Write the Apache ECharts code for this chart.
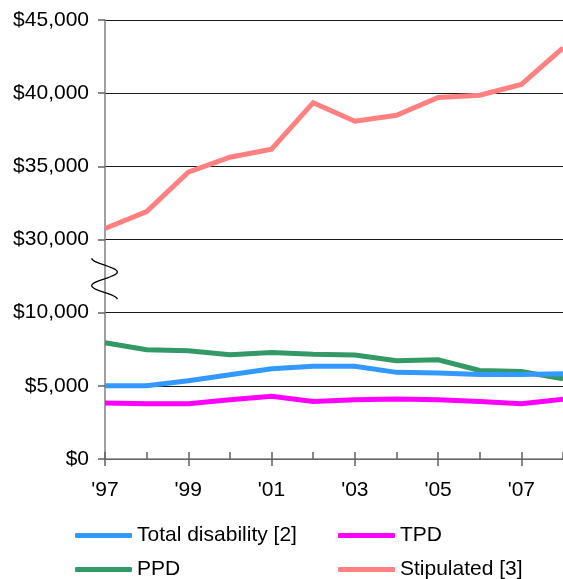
<!DOCTYPE html>
<html>
<head>
<meta charset="utf-8">
<script src="https://cdn.jsdelivr.net/npm/echarts@6/dist/echarts.min.js"></script>
<style>
	html, body { margin: 0; padding: 0; background: #fff; }
	#chart { width: 563px; height: 579px; }
</style>
</head>
<body>
<div id="chart"></div>
<script>
	// categories
	var years = ["'97", "'98", "'99", "'00", "'01", "'02", "'03", "'04", "'05", "'06", "'07", "'08"];
	// series values (dollars)
	var totalDisability = [5010, 5010, 5350, 5760, 6170, 6330, 6330, 5920, 5870, 5780, 5780, 5830];
	var tpd = [3820, 3780, 3780, 4050, 4280, 3930, 4050, 4100, 4050, 3930, 3780, 4080];
	var ppd = [7950, 7470, 7400, 7120, 7280, 7150, 7100, 6710, 6780, 6050, 5980, 5480];
	var stipulated = [30750, 31910, 34600, 35620, 36170, 39350, 38080, 38490, 39700, 39860, 40600, 43100];
	// broken axis: everything from $30,000 up is shifted down by this gap
	var breakLow = 10000;
	var breakHigh = 30000;
	var gap = 15000;

	function toAxis(v) {
		return v >= breakHigh ? v - gap : v;
	}
	function fromAxis(v) {
		return v > breakLow ? v + gap : v;
	}

	var font = "'Liberation Sans', Arial, sans-serif";
	var myChart = echarts.init(document.getElementById('chart'));

	// the little S-shaped break mark on the y axis
	var squiggle = [];
	for (var i = 0; i <= 40; i++) {
		var t = i / 40;
		squiggle.push([104.5 - 12.8 * Math.cos(t * 3 * Math.PI), 258.3 + t * 41]);
	}

	// one legend per item so the 2x2 grid sits where it should
	function legendItem(name, left, top) {
		return {
			left: left,
			top: top,
			padding: 0,
			itemWidth: 57,
			itemHeight: 5,
			icon: 'roundRect',
			data: [name],
			textStyle: { color: '#000', fontSize: 21, fontFamily: font, padding: [0, 0, 0, 0] }
		};
	}

	var option = {
		animation: false,
		textStyle: { fontFamily: font },
		grid: {
			left: 105,
			right: -4,
			top: 20,
			bottom: 120
		},
		legend: [
			legendItem('Total disability [2]', 75, 525),
			legendItem('PPD', 75, 559),
			legendItem('TPD', 338, 525),
			legendItem('Stipulated [3]', 338, 559)
		],
		xAxis: [{
			type: 'category',
			data: years,
			boundaryGap: false,
			axisLine: { lineStyle: { color: '#808080', width: 1.5 } },
			axisTick: { show: true, length: 7, lineStyle: { color: '#606060', width: 1.5 } },
			axisLabel: {
				interval: 1,
				margin: 21,
				color: '#000',
				fontSize: 21,
				fontFamily: font
			},
			splitLine: { show: false }
		}, {
			// inside half of the crossing tick marks
			type: 'category',
			data: years,
			position: 'bottom',
			boundaryGap: false,
			axisLine: { show: false },
			axisTick: { show: true, inside: true, length: 7, lineStyle: { color: '#606060', width: 1.5 } },
			axisLabel: { show: false },
			splitLine: { show: false }
		}],
		yAxis: [{
			type: 'value',
			min: 0,
			max: 30000,
			interval: 5000,
			axisLine: { show: true, lineStyle: { color: '#808080', width: 1.5 } },
			axisTick: { show: true, length: 7, lineStyle: { color: '#606060', width: 1.5 } },
			axisLabel: {
				margin: 16,
				color: '#000',
				fontSize: 21,
				fontFamily: font,
				formatter: function(v) {
					return '$' + fromAxis(v).toLocaleString('en-US');
				}
			},
			splitLine: { show: true, lineStyle: { color: '#1a1a1a', width: 1 } }
		}],
		graphic: [{
			type: 'polyline',
			shape: { points: squiggle },
			style: { stroke: '#000', lineWidth: 1.3, fill: null },
			z: 100
		}],
		series: [{
			name: 'PPD',
			type: 'line',
			data: ppd.map(toAxis),
			symbol: 'none',
			color: '#339966',
			lineStyle: { width: 5, cap: 'butt', join: 'miter' }
		}, {
			name: 'Total disability [2]',
			type: 'line',
			data: totalDisability.map(toAxis),
			symbol: 'none',
			color: '#3399ff',
			lineStyle: { width: 5, cap: 'butt', join: 'miter' }
		}, {
			name: 'TPD',
			type: 'line',
			data: tpd.map(toAxis),
			symbol: 'none',
			color: '#ff00ff',
			lineStyle: { width: 5, cap: 'butt', join: 'miter' }
		}, {
			name: 'Stipulated [3]',
			type: 'line',
			data: stipulated.map(toAxis),
			symbol: 'none',
			color: '#ff8080',
			lineStyle: { width: 5, cap: 'butt', join: 'miter' }
		}]
	};
	myChart.setOption(option);
</script>
</body>
</html>
